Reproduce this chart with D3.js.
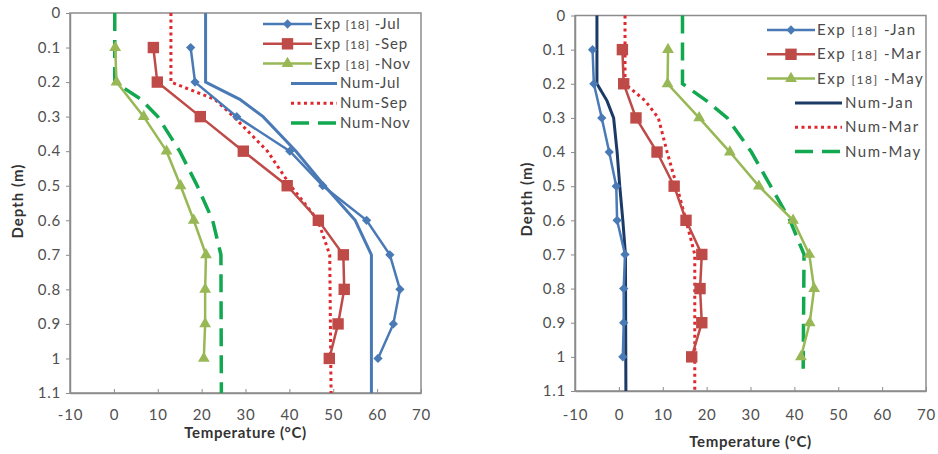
<!DOCTYPE html>
<html>
<head>
<meta charset="utf-8">
<script src="https://cdn.jsdelivr.net/npm/d3@7"></script>
<style>
  body { margin: 0; background: #fff; }
  text { font-family: Lato, "Liberation Sans", sans-serif; }
</style>
</head>
<body>
<svg id="mySVG"></svg>
<script>
// depths of the measured points (m)
var expDepth = [0.1, 0.2, 0.3, 0.4, 0.5, 0.6, 0.7, 0.8, 0.9, 1.0];
// depths of the simulated profiles (m)
var numDepth = [0, 0.2, 0.25, 0.3, 0.4, 0.5, 0.6, 0.7, 1.1];
var numDepthMay = [0, 0.2, 0.25, 0.3, 0.4, 0.5, 0.6, 0.7, 1.05];

// left chart: Jul / Sep / Nov
var expJul = [17.5, 18.5, 28.0, 40.1, 47.6, 57.6, 62.9, 65.2, 63.7, 60.2];
var expSep = [9.0, 9.9, 19.7, 29.5, 39.5, 46.6, 52.3, 52.5, 51.1, 49.1];
var expNov = [0.3, 0.6, 6.8, 12.0, 15.2, 18.2, 21.0, 20.8, 20.8, 20.5];
var numJul = [20.9, 20.9, 28.7, 34.0, 41.5, 48.0, 55.0, 58.7, 58.7];
var numSep = [13.0, 13.0, 23.0, 27.3, 35.0, 40.3, 46.5, 49.2, 49.5];
var numNov = [0.2, 0.2, 6.2, 10.0, 15.0, 19.0, 22.5, 24.4, 24.5];

// right chart: Jan / Mar / May
var expJan = [-6.0, -5.7, -3.9, -2.2, -0.6, -0.4, 1.4, 1.1, 1.1, 0.9];
var expMar = [0.8, 1.1, 3.9, 8.7, 12.6, 15.3, 18.9, 18.5, 18.9, 16.6];
var expMay = [11.2, 11.1, 18.3, 25.3, 31.9, 39.7, 43.4, 44.5, 43.5, 41.5];
var numJan = [-5.0, -5.0, -2.7, -1.2, -0.4, 0.2, 0.9, 1.5, 1.6];
var numMar = [1.4, 1.4, 6.0, 9.0, 11.0, 13.2, 15.3, 17.3, 17.3];
var numMay = [14.5, 14.5, 20.0, 24.7, 30.2, 34.6, 39.0, 42.2, 42.0];

var tempTicks = [-10, 0, 10, 20, 30, 40, 50, 60, 70];
var depthTicks = [0, 0.1, 0.2, 0.3, 0.4, 0.5, 0.6, 0.7, 0.8, 0.9, 1.0, 1.1];

var blue = "#4a7ab5", red = "#bf4b48", green = "#97b854";
var navy = "#1b3a66", dotRed = "#e0282e", dashGreen = "#12a84f";

var svg = d3.select("#mySVG").attr("width", 938).attr("height", 454);

function drawChart(c) {
  var x = d3.scaleLinear().domain([-10, 70]).range([c.left, c.right]);
  var y = d3.scaleLinear().domain([0, 1.1]).range([c.top, c.bottom]);
  var g = svg.append("g");

  // plot frame
  g.append("rect")
    .attr("x", c.left).attr("y", c.top)
    .attr("width", c.right - c.left).attr("height", c.bottom - c.top)
    .style("fill", "none").style("stroke", "#8c8c8c").style("stroke-width", 1.5);

  var yAxis = g.append("g")
    .attr("transform", "translate(" + c.left + ",0)")
    .call(d3.axisLeft(y).tickValues(depthTicks).tickSizeInner(4).tickSizeOuter(0)
      .tickPadding(5).tickFormat(function(d) { return String(+d.toFixed(1)); }));
  var xAxis = g.append("g")
    .attr("transform", "translate(0," + c.bottom + ")")
    .call(d3.axisBottom(x).tickValues(tempTicks).tickSizeInner(-4).tickSizeOuter(0)
      .tickPadding(c.xPad).tickFormat(function(d) { return String(d); }));
  [yAxis, xAxis].forEach(function(a) {
    a.select(".domain").style("stroke", "#8c8c8c").style("stroke-width", 1.5);
    a.selectAll(".tick line").style("stroke", "#8c8c8c");
    a.selectAll("text").style("font-size", "15px").style("fill", "#505050")
      .style("letter-spacing", "0.8px")
      .style("font-family", "Lato, sans-serif");
  });

  // axis titles
  g.append("text")
    .attr("x", (c.left + c.right) / 2).attr("y", c.xTitleY)
    .style("text-anchor", "middle").style("font-weight", "bold")
    .style("font-size", "15px").style("fill", "#333").style("letter-spacing", "0.6px")
    .text("Temperature (°C)");
  g.append("text")
    .attr("transform", "translate(" + c.yTitleX + "," + c.yTitleMid + ") rotate(-90)")
    .style("text-anchor", "middle").style("font-weight", "bold")
    .style("font-size", "15px").style("fill", "#333").style("letter-spacing", "1px")
    .text("Depth (m)");

  // simulated profiles
  c.num.forEach(function(s) {
    var pts = s.values.map(function(v, i) { return [x(v), y(s.depth[i])]; });
    g.append("path")
      .attr("d", d3.line()(pts))
      .style("fill", "none").style("stroke", s.color)
      .style("stroke-width", s.width)
      .style("stroke-dasharray", s.dash || null);
  });

  // measured profiles with markers
  c.exp.forEach(function(s) {
    var pts = s.values.map(function(v, i) { return [x(v), y(expDepth[i])]; });
    g.append("path")
      .attr("d", d3.line()(pts))
      .style("fill", "none").style("stroke", s.color).style("stroke-width", 2.5);
    g.selectAll(null).data(pts).enter().append("path")
      .attr("transform", function(p) { return "translate(" + p[0] + "," + p[1] + ")"; })
      .attr("d", d3.symbol().type(s.symbol).size(s.size))
      .style("fill", s.color);
  });

  // legend
  var lg = c.legend;
  c.exp.forEach(function(s, i) {
    var ly = lg.y0 + i * lg.step;
    g.append("line").attr("x1", lg.expX[0]).attr("x2", lg.expX[1])
      .attr("y1", ly).attr("y2", ly)
      .style("stroke", s.color).style("stroke-width", 2.5);
    g.append("path")
      .attr("transform", "translate(" + (lg.expX[0] + lg.expX[1]) / 2 + "," + ly + ")")
      .attr("d", d3.symbol().type(s.symbol).size(s.size))
      .style("fill", s.color);
    var t = g.append("text").attr("x", lg.expX[1] + 2).attr("y", ly + 5)
      .style("font-size", "15px").style("fill", "#4a4a4a")
      .style("letter-spacing", lg.spacing);
    t.append("tspan").text("Exp ");
    t.append("tspan").style("font-size", "12px").text("[18]");
    t.append("tspan").text(lg.gap + "-" + s.name);
  });
  c.num.forEach(function(s, i) {
    var ly = lg.y0 + (i + 3) * lg.step;
    g.append("line").attr("x1", lg.numX[0]).attr("x2", lg.numX[1])
      .attr("y1", ly).attr("y2", ly)
      .style("stroke", s.color).style("stroke-width", s.width)
      .style("stroke-dasharray", s.dash || null);
    g.append("text").attr("x", lg.numX[1] + 3).attr("y", ly + 5)
      .style("font-size", "15px").style("fill", "#4a4a4a")
      .style("letter-spacing", lg.spacing)
      .text("Num-" + s.name);
  });
}

drawChart({
  left: 70, right: 421, top: 13, bottom: 393, xPad: 16,
  xTitleY: 438, yTitleX: 23, yTitleMid: 201,
  exp: [
    {name: "Jul", values: expJul, color: blue, symbol: d3.symbolDiamond2, size: 55},
    {name: "Sep", values: expSep, color: red, symbol: d3.symbolSquare, size: 130},
    {name: "Nov", values: expNov, color: green, symbol: d3.symbolTriangle, size: 60}
  ],
  num: [
    {name: "Jul", values: numJul, depth: numDepth, color: blue, width: 3},
    {name: "Sep", values: numSep, depth: numDepth, color: dotRed, width: 3, dash: "3,3.5"},
    {name: "Nov", values: numNov, depth: numDepth, color: dashGreen, width: 3.5, dash: "18,9"}
  ],
  legend: {y0: 24, step: 19.8, expX: [263, 312], numX: [291, 337], spacing: "0.8px", gap: " "}
});

drawChart({
  left: 575, right: 926, top: 15.5, bottom: 391, xPad: 18,
  xTitleY: 447, yTitleX: 532, yTitleMid: 199,
  exp: [
    {name: "Jan", values: expJan, color: blue, symbol: d3.symbolDiamond2, size: 55},
    {name: "Mar", values: expMar, color: red, symbol: d3.symbolSquare, size: 130},
    {name: "May", values: expMay, color: green, symbol: d3.symbolTriangle, size: 60}
  ],
  num: [
    {name: "Jan", values: numJan, depth: numDepth, color: navy, width: 3},
    {name: "Mar", values: numMar, depth: numDepth, color: dotRed, width: 3, dash: "3,3.5"},
    {name: "May", values: numMay, depth: numDepthMay, color: dashGreen, width: 3.5, dash: "18,9"}
  ],
  legend: {y0: 30, step: 24.3, expX: [767, 815], numX: [795, 842], spacing: "1.5px", gap: " "}
});
</script>
</body>
</html>
